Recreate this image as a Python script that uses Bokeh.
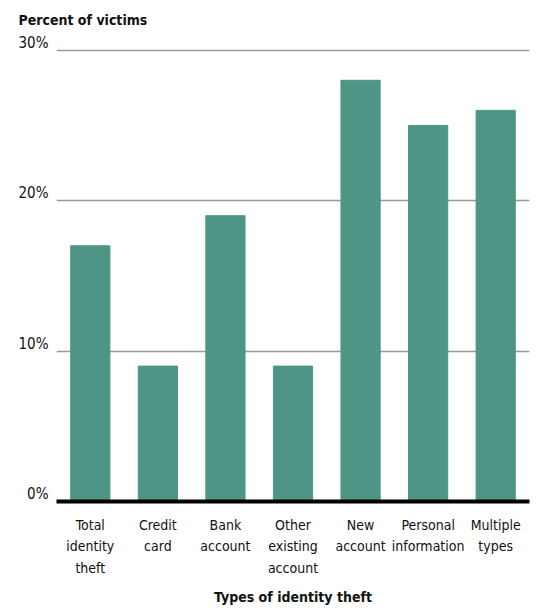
from bokeh.plotting import figure
from bokeh.models import Range1d, FactorRange, LinearAxis, FixedTicker
from bokeh.embed import file_html
from bokeh.resources import INLINE

categories = ["Total\nidentity\ntheft", "Credit\ncard", "Bank\naccount",
              "Other\nexisting\naccount", "New\naccount",
              "Personal\ninformation", "Multiple\ntypes"]
percent_of_victims = [17, 9, 19, 9, 28, 25, 26]
y_ticks = [0, 10, 20, 30]
y_tick_labels = {0: "0%", 10: "10%", 20: "20%", 30: "30%"}

FONT = "DejaVu Sans Condensed"
BAR = "#4e9585"
TXT = "#111111"

p = figure(width=535, height=611, output_backend="svg", toolbar_location=None,
           x_range=FactorRange(*categories), y_range=Range1d(0, 31.31),
           min_border_left=56, min_border_right=6, min_border_top=30,
           min_border_bottom=110, title="Percent of victims")

p.vbar(x=categories, top=percent_of_victims, width=0.58, color=BAR)

p.title.text_font = FONT
p.title.text_font_size = "14px"
p.title.text_font_style = "bold"
p.title.text_color = TXT
p.title.offset = -38
p.title.standoff = 6

p.outline_line_color = None
p.yaxis.visible = False
p.ygrid.ticker = FixedTicker(ticks=y_ticks[1:])
p.ygrid.grid_line_color = "#999999"
p.ygrid.grid_line_width = 1.5
p.xgrid.grid_line_color = None

# tick labels sit just above their gridlines
p.extra_y_ranges = {"labels": Range1d(-0.5, 31.31 - 0.5)}
ya = LinearAxis(y_range_name="labels", ticker=FixedTicker(ticks=y_ticks),
                major_label_overrides=y_tick_labels)
ya.axis_line_color = None
ya.major_tick_line_color = None
ya.minor_tick_line_color = None
ya.major_tick_out = 0
ya.major_label_standoff = 8
ya.major_label_text_font = FONT
ya.major_label_text_font_size = "15px"
ya.major_label_text_color = TXT
p.add_layout(ya, "left")

xa = p.xaxis[0]
xa.axis_line_color = "black"
xa.axis_line_width = 4
xa.major_tick_line_color = None
xa.minor_tick_line_color = None
xa.major_label_text_font = FONT
xa.major_label_text_font_size = "14px"
xa.major_label_text_line_height = 1.35
xa.major_label_text_color = TXT
xa.major_label_standoff = 9
xa.axis_label = "Types of identity theft"
xa.axis_label_text_font = FONT
xa.axis_label_text_font_size = "14px"
xa.axis_label_text_font_style = "bold"
xa.axis_label_text_color = TXT
xa.axis_label_standoff = 10

open("out.html", "w").write(file_html(p, INLINE))
